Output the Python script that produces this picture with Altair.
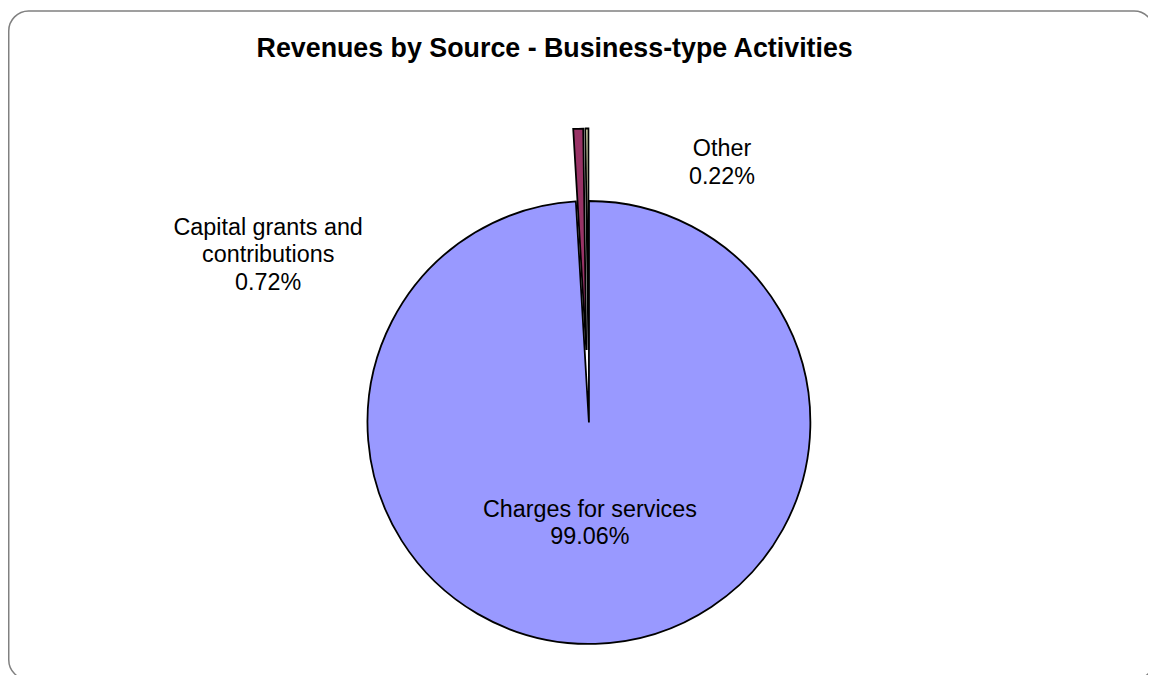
import math
import altair as alt
import pandas as pd

# ---- data ----
categories = ["Charges for services", "Capital grants and contributions", "Other"]
values = [99.06, 0.72, 0.22]
label_lines = [["Charges for services"], ["Capital grants and", "contributions"], ["Other"]]
colors = ["#9999FF", "#993366", "#FFFFCC"]
exploded = [False, True, True]
title_text = "Revenues by Source - Business-type Activities"

# ---- layout (pixels in plot coordinates) ----
W, H = 1148, 667
CX, CY, R = 585, 415, 223
EXPLODE = 73
label_pos = {
    "Charges for services": (586, 503),
    "Capital grants and contributions": (262, 219),
    "Other": (719, 140),
}
FONT = "Liberation Sans"

total = sum(values)
rows = []
acc = 0.0
for cat, v, ex, lines in zip(categories, values, exploded, label_lines):
    start = 2 * math.pi * acc / total
    acc += v
    end = 2 * math.pi * acc / total
    mid = (start + end) / 2
    off = EXPLODE if ex else 0
    lx, ly = label_pos[cat]
    rows.append({
        "category": cat,
        "value": v,
        "start": start,
        "end": end,
        "cx": CX + off * math.sin(mid),
        "cy": CY - off * math.cos(mid),
        "label": "\n".join(lines + [f"{v:.2f}%"]),
        "lx": lx,
        "ly": ly,
    })
df = pd.DataFrame(rows)

border = alt.Chart(pd.DataFrame({"k": [0]})).mark_rect(
    cornerRadius=20, fill=None, stroke="#808080", strokeWidth=1.5
).encode(
    x=alt.value(0.75), x2=alt.value(1154), y=alt.value(0.75), y2=alt.value(674)
)

arcs = alt.Chart(df).mark_arc(radius=R, stroke="black", strokeWidth=1.8, strokeJoin="miter").encode(
    theta=alt.Theta("start:Q", scale=None),
    theta2="end:Q",
    x=alt.X("cx:Q", scale=None, axis=None),
    y=alt.Y("cy:Q", scale=None, axis=None),
    color=alt.Color("category:N", scale=alt.Scale(domain=categories, range=colors), legend=None),
)

labels = alt.Chart(df).mark_text(
    font=FONT, fontSize=23.5, lineHeight=27.7, align="center", baseline="middle", color="black", lineBreak="\n"
).encode(
    x=alt.X("lx:Q", scale=None, axis=None),
    y=alt.Y("ly:Q", scale=None, axis=None),
    text="label:N",
)

title = alt.Chart(pd.DataFrame({"t": [title_text]})).mark_text(
    font=FONT, fontSize=27, fontWeight="bold", align="center", baseline="alphabetic", color="black"
).encode(
    x=alt.value(550.5), y=alt.value(47), text="t:N"
)

chart = alt.layer(border, arcs, labels, title).properties(
    width=W, height=H, padding=0, autosize=alt.AutoSizeParams(type="none")
).configure_view(stroke=None)

chart.save("out.html", embed_options={"renderer": "svg", "actions": False})
